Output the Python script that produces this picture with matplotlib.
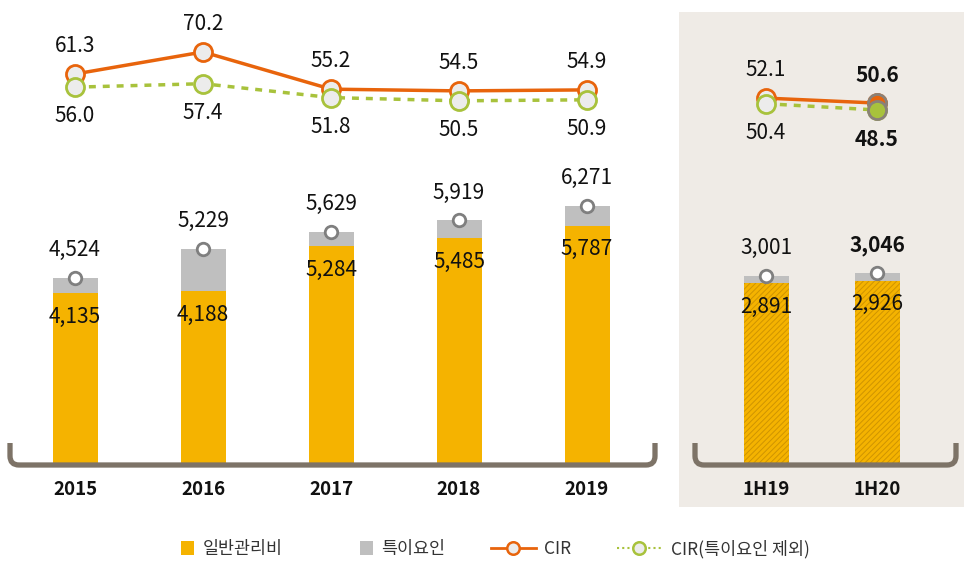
import matplotlib
matplotlib.use("Agg")
import matplotlib.pyplot as plt
from matplotlib.lines import Line2D
from matplotlib.patches import Rectangle, Patch
from matplotlib.path import Path
from matplotlib.patches import PathPatch
from matplotlib.legend_handler import HandlerPatch

plt.rcParams['font.family'] = ['Noto Sans CJK KR', 'DejaVu Sans']
plt.rcParams['hatch.linewidth'] = 0.7

# 연간 데이터
years = ['2015', '2016', '2017', '2018', '2019']
opex = [4135, 4188, 5284, 5485, 5787]          # 일반관리비
total = [4524, 5229, 5629, 5919, 6271]         # 일반관리비 + 특이요인
cir = [61.3, 70.2, 55.2, 54.5, 54.9]
cir_excl = [56.0, 57.4, 51.8, 50.5, 50.9]

# 반기 데이터
halves = ['1H19', '1H20']
h_opex = [2891, 2926]
h_total = [3001, 3046]
h_cir = [52.1, 50.6]
h_cir_excl = [50.4, 48.5]

ORANGE = '#f5b300'
GRAY = '#bfbfbf'
LINE_OR = '#e8640c'
LINE_GR = '#a8c23c'
BRACKET = '#7d7367'
PANEL = '#efebe6'
TXT = '#111111'
FS = 15

W, H = 964, 563
fig = plt.figure(figsize=(W / 100, H / 100), dpi=100)
fig.patch.set_facecolor('white')

# 오른쪽 배경 패널
fig.patches.append(Rectangle((679 / W, (H - 507) / H), (W - 679) / W, (507 - 12) / H,
                             transform=fig.transFigure, facecolor=PANEL, edgecolor='none', zorder=-1))


def make_axes(left_px, right_px):
    return fig.add_axes([left_px / W, (H - 463) / H, (right_px - left_px) / W, (463 - 12) / H])


def draw_panel(ax, labels, o_vals, t_vals, c_vals, ce_vals, step, x0, ymax, lim, hatch=None, bold_last=False):
    n = len(labels)
    xs = list(range(n))
    left_px = ax.get_position().x0 * W
    right_px = ax.get_position().x1 * W
    ax.set_xlim((left_px - x0) / step, (right_px - x0) / step)
    ax.set_ylim(0, ymax)
    bw = 45 / step
    extra = [t - o for t, o in zip(t_vals, o_vals)]
    if hatch:
        ax.bar(xs, o_vals, bw, color=ORANGE, edgecolor='#cf9400', linewidth=0, hatch=hatch, zorder=2)
    else:
        ax.bar(xs, o_vals, bw, color=ORANGE, linewidth=0, zorder=2)
    ax.bar(xs, extra, bw, bottom=o_vals, color=GRAY, linewidth=0, zorder=2)
    ax.plot(xs, t_vals, 'o', ms=9, mfc='white', mec='#7f7f7f', mew=2, zorder=4)
    for i in xs:
        w = 'bold' if (bold_last and i == n - 1) else 'normal'
        ax.annotate(f'{t_vals[i]:,}', (i, t_vals[i]), xytext=(0, 20), textcoords='offset points',
                    ha='center', va='center', fontsize=FS, color=TXT, fontweight=w)
        ax.annotate(f'{o_vals[i]:,}', (i, o_vals[i]), xytext=(0, -17), textcoords='offset points',
                    ha='center', va='center', fontsize=FS, color=TXT)
    ax.set_xticks(xs)
    ax.set_xticklabels(labels, fontsize=13.5, fontweight='bold', color=TXT)
    ax.tick_params(axis='x', length=0, pad=12)
    ax.set_yticks([])
    for s in ax.spines.values():
        s.set_visible(False)
    ax.patch.set_visible(False)

    lx = ax.twinx()
    lx.set_ylim(*lim)
    lx.set_yticks([])
    for s in lx.spines.values():
        s.set_visible(False)
    lx.plot(xs, c_vals, '-', color=LINE_OR, lw=2.5, marker='o', ms=13, mfc='#ececec', mec=LINE_OR, mew=2, zorder=3)
    lx.plot(xs, ce_vals, color=LINE_GR, lw=2.5, ls=(0, (2, 2)), marker='o', ms=13, mfc='#ececec', mec=LINE_GR,
            mew=2, zorder=4)
    if bold_last:
        lx.plot(xs[-1], c_vals[-1], 'o', ms=13, mfc=LINE_OR, mec='#8a8178', mew=2, zorder=5)
        lx.plot(xs[-1], ce_vals[-1], 'o', ms=13, mfc=LINE_GR, mec='#8a8178', mew=2, zorder=6)
    for i in xs:
        w = 'bold' if (bold_last and i == n - 1) else 'normal'
        lx.annotate(f'{c_vals[i]:.1f}', (i, c_vals[i]), xytext=(0, 20), textcoords='offset points',
                    ha='center', va='center', fontsize=FS, color=TXT, fontweight=w)
        lx.annotate(f'{ce_vals[i]:.1f}', (i, ce_vals[i]), xytext=(0, -21), textcoords='offset points',
                    ha='center', va='center', fontsize=FS, color=TXT, fontweight=w)


ax1 = make_axes(0, 670)
draw_panel(ax1, years, opex, total, cir, cir_excl, 128, 75, 11000, (-95.5, 86.3))

ax2 = make_axes(679, 964)
draw_panel(ax2, halves, h_opex, h_total, h_cir, h_cir_excl, 111, 766, 7240, (-58.5, 78.2),
           hatch='//////', bold_last=True)

# 하단 브래킷
ov = fig.add_axes([0, 0, 1, 1])
ov.set_xlim(0, W)
ov.set_ylim(H, 0)
ov.axis('off')


def bracket(x1, x2, top=443, base=465, r=9):
    verts = [(x1, top), (x1, base - r), (x1, base), (x1 + r, base), (x2 - r, base), (x2, base),
             (x2, base - r), (x2, top)]
    codes = [Path.MOVETO, Path.LINETO, Path.CURVE3, Path.CURVE3, Path.LINETO, Path.CURVE3, Path.CURVE3,
             Path.LINETO]
    ov.add_patch(PathPatch(Path(verts, codes), fill=False, edgecolor=BRACKET, lw=3.8,
                           capstyle='butt', joinstyle='round', zorder=10))


bracket(10, 655)
bracket(695, 956)


def small_square(legend, orig_handle, xdescent, ydescent, width, height, fontsize):
    s = height * 1.05
    return Rectangle((width - s - xdescent, (height - s) / 2 - ydescent), s, s)


handles = [
    Patch(facecolor=ORANGE, edgecolor='none'),
    Patch(facecolor=GRAY, edgecolor='none'),
    Line2D([0], [0], color=LINE_OR, lw=2, marker='o', ms=9, mfc='#ececec', mec=LINE_OR, mew=1.8),
    Line2D([0], [0], color=LINE_GR, lw=1.5, ls=(0, (1, 1.5)), marker='o', ms=9, mfc='#ececec', mec=LINE_GR,
           mew=1.8),
]
leg_labels = ['일반관리비', '특이요인', 'CIR', 'CIR(특이요인 제외)']
fig.legend(handles, leg_labels, loc='center', bbox_to_anchor=(0.497, 0.025), ncol=4, frameon=False,
           fontsize=12.5, handlelength=2.6, handleheight=0.75, handletextpad=0.5, columnspacing=2.6,
           labelcolor='#333333', handler_map={Patch: HandlerPatch(patch_func=small_square)})

fig.savefig('out.png', dpi=100, facecolor='white')
